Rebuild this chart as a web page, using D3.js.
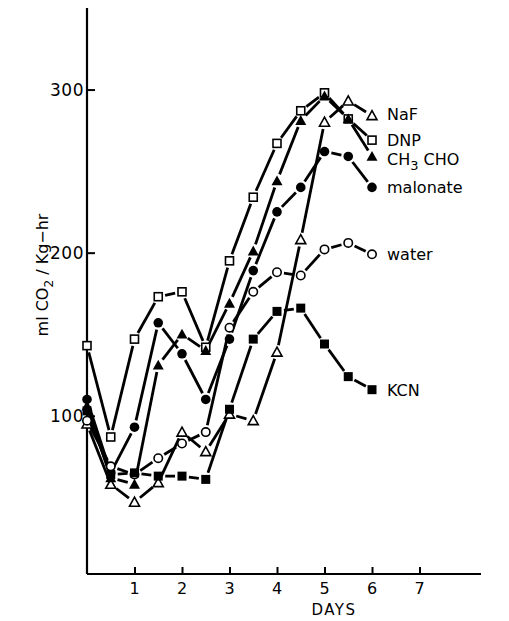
<!DOCTYPE html>
<html><head><meta charset="utf-8">
<script src="https://cdn.jsdelivr.net/npm/d3@7"></script>
<style>html,body{margin:0;padding:0;background:#fff;}svg{display:block;}</style>
</head><body>
<svg id="chart" width="509" height="621"></svg>
<script>
const days = [0, 0.5, 1, 1.5, 2, 2.5, 3, 3.5, 4, 4.5, 5, 5.5, 6];
const naf      = [95, 58, 47, 59, 90, 78, 101, 97, 139, 208, 280, 293, 284];
const dnp      = [143, 87, 147, 173, 176, 142, 195, 234, 267, 287, 298, 282, 269];
const ch3cho   = [106, 62, 58, 131, 150, 140, 169, 201, 244, 281, 296, 282, 259];
const malonate = [110, 65, 93, 157, 138, 110, 147, 189, 225, 240, 262, 259, 240];
const water    = [97, 69, 64, 74, 83, 90, 154, 176, 188, 186, 202, 206, 199];
const kcn      = [103, 64, 65, 63, 63, 61, 104, 147, 164, 166, 144, 124, 116];
const xTicks = [1, 2, 3, 4, 5, 6, 7];
const yTicks = [100, 200, 300];
const seriesNames = ["NaF", "DNP", "CH3CHO", "malonate", "water", "KCN"];
const seriesMarkers = ["triangle-open", "square-open", "triangle-filled", "circle-filled", "circle-open", "square-filled"];
const seriesValues = [naf, dnp, ch3cho, malonate, water, kcn];

const svg = d3.select("#chart");
const x = d3.scaleLinear().domain([0, 7]).range([87, 419.5]);
const y = d3.scaleLinear().domain([3, 350]).range([574, 8]);
const font = "'DejaVu Sans', 'Liberation Sans', sans-serif";

// axes
const xAxis = d3.axisBottom(x).tickValues(xTicks).tickSize(-7).tickFormat("");
const gx = svg.append("g").attr("transform", `translate(0,${y(3)})`).call(xAxis);
gx.select(".domain").remove();
gx.selectAll(".tick line").attr("stroke", "#000").attr("stroke-width", 2);
svg.append("line").attr("x1", x(0)).attr("x2", 481).attr("y1", y(3)).attr("y2", y(3))
  .attr("stroke", "#000").attr("stroke-width", 2.2);
const yAxis = d3.axisLeft(y).tickValues(yTicks).tickSize(-8).tickFormat("");
const gy = svg.append("g").attr("transform", `translate(${x(0)},0)`).call(yAxis);
gy.select(".domain").remove();
gy.selectAll(".tick line").attr("stroke", "#000").attr("stroke-width", 2);
svg.append("line").attr("x1", x(0)).attr("x2", x(0)).attr("y1", y(350)).attr("y2", y(3))
  .attr("stroke", "#000").attr("stroke-width", 2.2);

// tick labels
svg.selectAll(".xl").data(xTicks).enter().append("text")
  .attr("x", d => x(d)).attr("y", 594).attr("text-anchor", "middle")
  .attr("font-family", font).attr("font-size", 16).text(d => d);
svg.selectAll(".yl").data(yTicks).enter().append("text")
  .attr("x", x(0) - 3).attr("y", d => y(d) + 6).attr("text-anchor", "end")
  .attr("font-family", font).attr("font-size", 17).attr("letter-spacing", 0.5).text(d => d);

svg.append("text").attr("x", 334).attr("y", 615).attr("text-anchor", "middle")
  .attr("font-family", font).attr("font-size", 15).attr("letter-spacing", 1.5).text("DAYS");

const yl = svg.append("text").attr("transform", "translate(48,275) rotate(-90)")
  .attr("text-anchor", "middle").attr("font-family", font).attr("font-size", 16);
yl.append("tspan").text("ml CO");
yl.append("tspan").attr("dy", 5).attr("font-size", 12).text("2");
yl.append("tspan").attr("dy", -5).text(" / Kg\u2212hr");

// series lines with gaps at markers
const gap = 7;
seriesValues.forEach((vals, si) => {
  const pts = days.map((d, i) => [x(d), y(vals[i])]);
  const g = svg.append("g");
  for (let i = 0; i < pts.length - 1; i++) {
    const [x1, y1] = pts[i], [x2, y2] = pts[i + 1];
    const len = Math.hypot(x2 - x1, y2 - y1);
    if (len <= 2 * gap) continue;
    const ux = (x2 - x1) / len, uy = (y2 - y1) / len;
    g.append("line")
      .attr("x1", x1 + ux * gap).attr("y1", y1 + uy * gap)
      .attr("x2", x2 - ux * gap).attr("y2", y2 - uy * gap)
      .attr("stroke", "#000").attr("stroke-width", 2.8);
  }
});

// markers
function drawMarker(g, type, cx, cy) {
  if (type === "square-open") {
    g.append("rect").attr("x", cx - 4).attr("y", cy - 4).attr("width", 8).attr("height", 8)
      .attr("fill", "#fff").attr("stroke", "#000").attr("stroke-width", 1.6);
  } else if (type === "square-filled") {
    g.append("rect").attr("x", cx - 4.5).attr("y", cy - 4.5).attr("width", 9).attr("height", 9)
      .attr("fill", "#000");
  } else if (type === "circle-open") {
    g.append("circle").attr("cx", cx).attr("cy", cy).attr("r", 4.2)
      .attr("fill", "#fff").attr("stroke", "#000").attr("stroke-width", 1.6);
  } else if (type === "circle-filled") {
    g.append("circle").attr("cx", cx).attr("cy", cy).attr("r", 4.8).attr("fill", "#000");
  } else if (type === "triangle-open") {
    const s = 5;
    g.append("path").attr("d", `M${cx},${cy - s}L${cx + s},${cy + s * 0.8}L${cx - s},${cy + s * 0.8}Z`)
      .attr("fill", "#fff").attr("stroke", "#000").attr("stroke-width", 1.6);
  } else if (type === "triangle-filled") {
    const s = 5.5;
    g.append("path").attr("d", `M${cx},${cy - s}L${cx + s},${cy + s * 0.8}L${cx - s},${cy + s * 0.8}Z`)
      .attr("fill", "#000");
  }
}
seriesValues.forEach((vals, si) => {
  const g = svg.append("g");
  days.forEach((d, i) => drawMarker(g, seriesMarkers[si], x(d), y(vals[i])));
});

// series labels
const labelX = 387;
const labelDy = [4, 6, 9, 6, 6, 6];
seriesNames.forEach((name, si) => {
  const vals = seriesValues[si];
  const last = vals[vals.length - 1];
  const t = svg.append("text").attr("x", labelX).attr("y", y(last) + labelDy[si])
    .attr("font-family", font).attr("font-size", 16);
  if (name === "CH3CHO") {
    t.append("tspan").text("CH");
    t.append("tspan").attr("dy", 5).attr("font-size", 13).text("3");
    t.append("tspan").attr("dy", -5).text(" CHO");
  } else {
    t.text(name);
  }
});
</script>
</body></html>
